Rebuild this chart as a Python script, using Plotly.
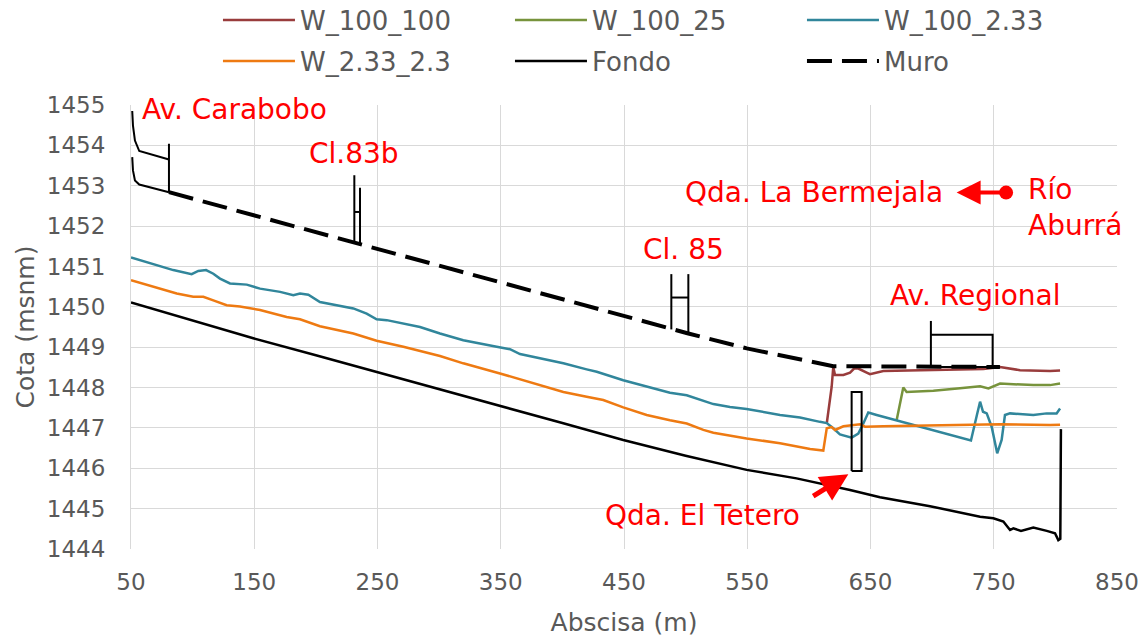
import plotly.graph_objects as go

# ---------------- data ----------------
w100_100_x = [614.5, 618.5, 619.8, 621.2, 628.0, 633.4, 636.7, 640.1, 646.9, 649.6, 660.4, 701.0, 741.6, 755.1, 771.3, 795.7, 803.8]
w100_100_y = [1447.11, 1448.02, 1448.51, 1448.31, 1448.31, 1448.37, 1448.47, 1448.47, 1448.37, 1448.33, 1448.41, 1448.43, 1448.46, 1448.51, 1448.43, 1448.41, 1448.42]

w100_25_x = [671.2, 676.6, 679.3, 701.0, 722.6, 738.9, 745.7, 755.1, 782.1, 795.7, 803.8]
w100_25_y = [1447.19, 1448.00, 1447.89, 1447.92, 1447.98, 1448.03, 1447.98, 1448.10, 1448.06, 1448.06, 1448.10]

w100_233_x = [50, 68.1, 84.3, 99.2, 104.6, 110.9, 116.8, 122.2, 130.3, 143.9, 154.7, 171.0, 181.7, 187.1, 193.9,
              203.3, 216.9, 230.4, 241.2, 249.3, 257.5, 271.0, 284.5, 300.7, 319.6, 346.7, 357.5, 365.6, 373.7,
              400.8, 419.7, 427.9, 449.4, 468.4, 487.3, 500.9, 509.0, 522.5, 536.0, 549.5, 576.6, 592.8, 609.0,
              614.5, 619.8, 625.2, 634.7, 640.1, 644.2, 648.2, 655.0, 671.2, 731.5, 736.2, 738.9, 741.3, 744.3,
              748.3, 752.8, 756.4, 759.1, 763.2, 782.1, 792.9, 801.0, 803.8]
w100_233_y = [1451.22, 1451.05, 1450.91, 1450.81, 1450.89, 1450.91, 1450.82, 1450.70, 1450.58, 1450.55, 1450.45,
              1450.37, 1450.29, 1450.33, 1450.30, 1450.12, 1450.04, 1449.96, 1449.83, 1449.69, 1449.67, 1449.59,
              1449.50, 1449.34, 1449.17, 1449.01, 1448.95, 1448.83, 1448.78, 1448.60, 1448.45, 1448.39, 1448.18,
              1448.02, 1447.87, 1447.81, 1447.73, 1447.59, 1447.52, 1447.47, 1447.32, 1447.26, 1447.15, 1447.12,
              1446.99, 1446.84, 1446.76, 1446.86, 1447.11, 1447.38, 1447.32, 1447.19, 1446.69, 1447.30, 1447.65,
              1447.40, 1447.36, 1447.03, 1446.37, 1446.70, 1447.32, 1447.36, 1447.32, 1447.36, 1447.36, 1447.48]

w233_23_x = [50, 68.1, 87.1, 100.5, 108.7, 116.8, 127.6, 138.4, 154.7, 176.3, 187.1, 203.3, 230.4, 249.3, 271.0,
             300.7, 319.6, 349.4, 373.7, 400.8, 419.7, 433.2, 449.4, 468.4, 487.3, 500.9, 514.4, 522.5, 549.5,
             576.6, 601.0, 611.7, 614.5, 618.5, 621.2, 628.0, 641.5, 645.6, 660.4, 701.0, 755.1, 795.7, 803.8]
w233_23_y = [1450.66, 1450.49, 1450.33, 1450.25, 1450.25, 1450.16, 1450.04, 1450.01, 1449.92, 1449.75, 1449.69,
             1449.52, 1449.34, 1449.16, 1449.01, 1448.78, 1448.60, 1448.35, 1448.14, 1447.89, 1447.77, 1447.69,
             1447.51, 1447.32, 1447.19, 1447.11, 1446.95, 1446.88, 1446.74, 1446.62, 1446.48, 1446.44, 1446.99,
             1447.02, 1446.95, 1447.04, 1447.09, 1447.03, 1447.04, 1447.06, 1447.09, 1447.07, 1447.08]

fondo_x = [50, 100.0, 149.2, 200.0, 249.3, 292.6, 349.4, 400.0, 449.4, 500.0, 549.5, 590.0, 633.4, 657.7, 698.3,
           738.9, 749.7, 757.8, 763.2, 765.9, 772.1, 782.1, 793.0, 799.7, 802.4, 804.0, 804.5]
fondo_y = [1450.11, 1449.66, 1449.22, 1448.80, 1448.39, 1448.03, 1447.56, 1447.12, 1446.70, 1446.31, 1445.96,
           1445.75, 1445.46, 1445.28, 1445.06, 1444.80, 1444.76, 1444.68, 1444.47, 1444.51, 1444.45, 1444.53,
           1444.45, 1444.39, 1444.22, 1444.25, 1446.97]

muro_x = [80.8, 292.6, 430.5, 488.4, 502.2, 549.6, 609.0, 619.8, 755.0]
muro_y = [1452.84, 1451.07, 1449.92, 1449.44, 1449.34, 1448.97, 1448.60, 1448.53, 1448.51]

# structures (bridges / crossings), drawn unlabelled
estructura_x = [51.0, 51.6, 53.2, 56.7, 80.8, None, 80.8, 80.8, None,
                51.0, 51.6, 53.2, 56.7, 80.8, None,
                231.2, 231.2, None, 235.8, 235.8, None, 231.2, 235.8, None,
                488.4, 488.4, None, 502.2, 502.2, None, 488.4, 502.2, None,
                699.0, 699.0, None, 699.0, 749.1, 749.1, None, 699.0, 755.0, None,
                634.7, 642.8, 642.8, 634.7, 634.7]
estructura_y = [1454.85, 1454.49, 1454.12, 1453.86, 1453.65, None, 1454.04, 1452.84, None,
                1453.71, 1453.38, 1453.13, 1453.03, 1452.84, None,
                1453.26, 1451.57, None, 1452.95, 1451.52, None, 1452.35, 1452.35, None,
                1450.81, 1449.44, None, 1450.81, 1449.34, None, 1450.23, 1450.23, None,
                1449.65, 1448.51, None, 1449.31, 1449.31, 1448.51, None, 1448.51, 1448.51, None,
                1445.93, 1445.93, 1447.89, 1447.89, 1445.93]

# labels: (text, x, y)
etiquetas = [
    ("Av. Carabobo", 57.3, 1454.89),
    ("Cl.83b", 192.8, 1453.80),
    ("Qda. La Bermejala", 497.9, 1452.84),
    ("Río<br>Aburrá", 776.2, 1452.47),
    ("Cl. 85", 463.8, 1451.43),
    ("Av. Regional", 664.2, 1450.29),
    ("Qda. El Tetero", 433.0, 1444.84),
]
rio_punto = (760.0, 1452.83)
rio_flecha = (719.9, 1452.83)
tetero_cola = (602.3, 1445.29)
tetero_punta = (632.0, 1445.85)

FONT = "DejaVu Sans"
GRAY = "#595959"

fig = go.Figure()
series = [
    ("W_100_100", w100_100_x, w100_100_y, "#993C3C", "legend"),
    ("W_100_25", w100_25_x, w100_25_y, "#77933C", "legend"),
    ("W_100_2.33", w100_233_x, w100_233_y, "#31869B", "legend"),
    ("W_2.33_2.3", w233_23_x, w233_23_y, "#EE7A12", "legend2"),
    ("Fondo", fondo_x, fondo_y, "#000000", "legend2"),
]
for name, xs, ys, col, lg in series:
    fig.add_trace(go.Scatter(x=xs, y=ys, mode="lines", name=name, legend=lg,
                             line=dict(color=col, width=2.5)))
fig.add_trace(go.Scatter(x=muro_x, y=muro_y, mode="lines", name="Muro", legend="legend2",
                         line=dict(color="#000000", width=4, dash="25px,10px")))
fig.add_trace(go.Scatter(x=estructura_x, y=estructura_y, mode="lines", showlegend=False,
                         line=dict(color="#000000", width=2), hoverinfo="skip"))
fig.add_trace(go.Scatter(x=[rio_punto[0]], y=[rio_punto[1]], mode="markers", showlegend=False,
                         marker=dict(color="#FF0000", size=14), hoverinfo="skip"))

annotations = []
for txt, x, y in etiquetas:
    annotations.append(dict(text=txt, x=x, y=y, xref="x", yref="y", xanchor="left", yanchor="middle",
                            showarrow=False, align="left",
                            font=dict(family=FONT, size=28, color="#FF0000")))
annotations.append(dict(text="", x=rio_flecha[0], y=rio_flecha[1], ax=rio_punto[0], ay=rio_punto[1],
                        xref="x", yref="y", axref="x", ayref="y", showarrow=True,
                        arrowhead=2, arrowsize=1.2, arrowwidth=4, arrowcolor="#FF0000"))
annotations.append(dict(text="", x=tetero_punta[0], y=tetero_punta[1], ax=tetero_cola[0], ay=tetero_cola[1],
                        xref="x", yref="y", axref="x", ayref="y", showarrow=True,
                        arrowhead=2, arrowsize=1.1, arrowwidth=5, arrowcolor="#FF0000"))

legend_common = dict(orientation="h", x=0.0882, xanchor="left", yanchor="middle",
                     font=dict(family=FONT, size=26, color=GRAY),
                     itemwidth=72, entrywidth=205, entrywidthmode="pixels",
                     traceorder="normal", bgcolor="rgba(0,0,0,0)")

fig.update_layout(
    width=1143, height=642,
    margin=dict(l=131, r=26, t=105, b=93, autoexpand=False),
    plot_bgcolor="white", paper_bgcolor="white",
    font=dict(family=FONT, color=GRAY),
    annotations=annotations,
    legend=dict(y=(549 - 20) / 444, **legend_common),
    legend2=dict(y=(549 - 61) / 444, **legend_common),
    showlegend=True,
)
fig.update_xaxes(range=[50, 850], tick0=50, dtick=100, showgrid=True, gridcolor="#D9D9D9", gridwidth=1,
                 zeroline=False, showline=False, ticks="",
                 tickfont=dict(family=FONT, size=23, color=GRAY), ticklabelstandoff=17,
                 title=dict(text="Abscisa (m)", font=dict(family=FONT, size=25, color=GRAY), standoff=19))
fig.update_yaxes(range=[1444, 1455], dtick=1, showgrid=True, gridcolor="#D9D9D9", gridwidth=1,
                 zeroline=False, showline=True, linecolor="#D9D9D9", ticks="",
                 tickfont=dict(family=FONT, size=23, color=GRAY), ticklabelstandoff=20,
                 title=dict(text="Cota (msnm)", font=dict(family=FONT, size=25, color=GRAY), standoff=5))

fig.write_html("out.html")
